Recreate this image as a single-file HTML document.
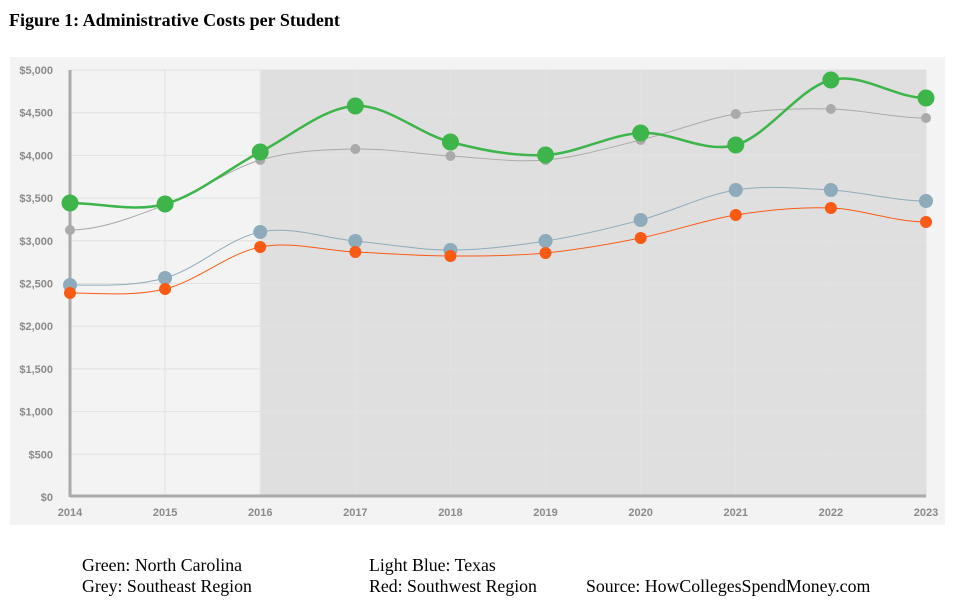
<!DOCTYPE html>
<html><head><meta charset="utf-8"><style>
body{margin:0;background:#fff;width:968px;height:614px;overflow:hidden;font-family:"Liberation Serif",serif}
.t{position:absolute;font-size:17.8px;color:#000;white-space:nowrap}
</style></head><body>
<div class="t" style="left:9px;top:10px;font-weight:bold;font-size:18px">Figure 1: Administrative Costs per Student</div>
<svg id="s" width="968" height="614" style="position:absolute;left:0;top:0" font-family="Liberation Sans, sans-serif">
<rect x="10" y="57" width="935" height="468" fill="#f3f3f3"/>
<rect x="261" y="70" width="665" height="427" fill="#dfdfdf"/>
<g id="grid" stroke="#e2e2e2" stroke-width="1"></g>
<line x1="70" y1="70" x2="70" y2="497" stroke="#aaa" stroke-width="3"/>
<line x1="70" y1="496" x2="926" y2="496" stroke="#aaa" stroke-width="3"/>
<g id="lab" font-size="11" font-weight="bold" fill="#8a8a8a"></g>
<g id="ser"></g>
</svg>
<div class="t" style="left:82px;top:555px">Green: North Carolina</div>
<div class="t" style="left:82px;top:576px">Grey: Southeast Region</div>
<div class="t" style="left:369px;top:555px">Light Blue: Texas</div>
<div class="t" style="left:369px;top:576px">Red: Southwest Region</div>
<div class="t" style="left:586px;top:576px">Source: HowCollegesSpendMoney.com</div>
<script>
var NS="http://www.w3.org/2000/svg";
function el(p,n,a,t){var e=document.createElementNS(NS,n);for(var k in a)e.setAttribute(k,a[k]);if(t)e.textContent=t;p.appendChild(e);return e;}
var g=document.getElementById('grid'),lab=document.getElementById('lab'),ser=document.getElementById('ser');
var X=function(i){return 70+i*95.11;};
for(var v=0;v<=10;v++){var y=497-v*42.7;if(v>0)el(g,'line',{x1:70,x2:926,y1:y,y2:y});
el(lab,'text',{x:53,y:y+4,'text-anchor':'end'},'$'+(v*500).toLocaleString('en-US'));}
for(var i=0;i<10;i++){if(i>0)el(g,'line',{x1:X(i),x2:X(i),y1:70,y2:497});
el(lab,'text',{x:X(i),y:516,'text-anchor':'middle'},String(2014+i));}
function cr(xs,ys){var n=xs.length,m=[];
for(var i=0;i<n;i++){var a=Math.max(0,i-1),b=Math.min(n-1,i+1);m[i]=(ys[b]-ys[a])/(xs[b]-xs[a]);}
m[0]=0;m[n-1]=0;
var s='M'+xs[0]+','+ys[0];for(i=0;i<n-1;i++){var h=(xs[i+1]-xs[i])/3;s+='C'+(xs[i]+h)+','+(ys[i]+m[i]*h)+' '+(xs[i+1]-h)+','+(ys[i+1]-m[i+1]*h)+' '+xs[i+1]+','+ys[i+1];}return s;}
var S=[
{c:'#aaaaaa',w:1,r:5,y:[230,205,160,149,156,160,140,114,109,118]},
{c:'#8eabbb',w:1,r:7,y:[285,278,232,241,250,241,220,190,190,201]},
{c:'#fa5a14',w:1,r:6,y:[293,289,247,252,256,253,238,215,208,222]},
{c:'#3db54a',w:2.5,r:8.5,y:[203,204,152,106,142,155,133,145,80,98]}];
var xs=[];for(i=0;i<10;i++)xs.push(X(i));
S.forEach(function(s){el(ser,'path',{d:cr(xs,s.y),fill:'none',stroke:s.c,'stroke-width':s.w});
for(var i=0;i<10;i++)el(ser,'circle',{cx:xs[i],cy:s.y[i],r:s.r,fill:s.c});});
</script>
</body></html>
